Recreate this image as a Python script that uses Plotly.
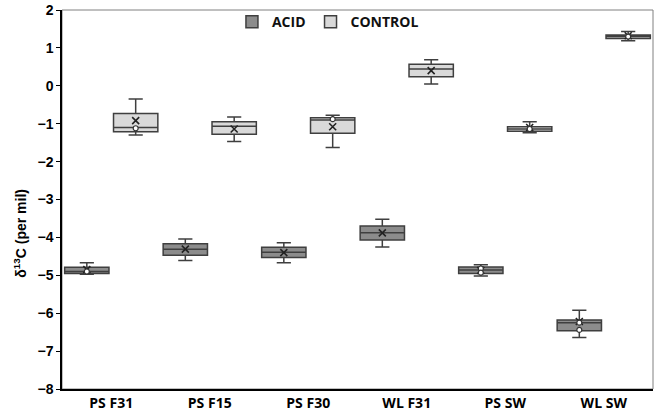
import plotly.graph_objects as go

categories = ["PS F31", "PS F15", "PS F30", "WL F31", "PS SW", "WL SW"]

# ACID series statistics (per mil)
acid_upper = [-4.67, -4.04, -4.14, -3.52, -4.72, -5.92]
acid_q3 = [-4.79, -4.17, -4.26, -3.70, -4.78, -6.18]
acid_median = [-4.90, -4.31, -4.39, -3.88, -4.86, -6.25]
acid_q1 = [-4.95, -4.47, -4.53, -4.07, -4.95, -6.46]
acid_lower = [-4.97, -4.61, -4.67, -4.25, -5.02, -6.64]
acid_mean = [-4.85, -4.31, -4.40, -3.88, -4.87, -6.22]
acid_points_cat = [0, 4, 4, 5, 5]
acid_points_val = [-4.90, -4.82, -4.93, -6.25, -6.44]

# CONTROL series statistics (per mil)
ctrl_upper = [-0.35, -0.82, -0.78, 0.69, -0.95, 1.43]
ctrl_q3 = [-0.73, -0.95, -0.84, 0.57, -1.08, 1.34]
ctrl_median = [-1.10, -1.07, -0.90, 0.44, -1.14, 1.30]
ctrl_q1 = [-1.21, -1.28, -1.25, 0.24, -1.20, 1.25]
ctrl_lower = [-1.30, -1.47, -1.63, 0.05, -1.24, 1.19]
ctrl_mean = [-0.92, -1.14, -1.08, 0.40, -1.10, 1.32]
ctrl_points_cat = [0, 2, 4, 5]
ctrl_points_val = [-1.12, -0.88, -1.14, 1.30]

y_ticks = list(range(-8, 3))

OFF = 0.248
BW = 0.45
acid_x = [i - OFF for i in range(len(categories))]
ctrl_x = [i + OFF for i in range(len(categories))]

line_col = "#3f3f3f"
fig = go.Figure()

fig.add_trace(go.Box(
    name="ACID", x=acid_x, q1=acid_q1, median=acid_median, q3=acid_q3,
    lowerfence=acid_lower, upperfence=acid_upper, width=BW,
    fillcolor="#8c8c8c", line=dict(color=line_col, width=1.5),
    whiskerwidth=0.32, boxpoints=False, hoverinfo="skip"))
fig.add_trace(go.Box(
    name="CONTROL", x=ctrl_x, q1=ctrl_q1, median=ctrl_median, q3=ctrl_q3,
    lowerfence=ctrl_lower, upperfence=ctrl_upper, width=BW,
    fillcolor="#d9d9d9", line=dict(color=line_col, width=1.5),
    whiskerwidth=0.32, boxpoints=False, hoverinfo="skip"))

# mean markers
fig.add_trace(go.Scatter(
    x=acid_x + ctrl_x, y=acid_mean + ctrl_mean, mode="markers",
    marker=dict(symbol="x-thin", size=7, line=dict(color="#222222", width=1.6)),
    showlegend=False, hoverinfo="skip"))
# inner points
fig.add_trace(go.Scatter(
    x=[acid_x[i] for i in acid_points_cat] + [ctrl_x[i] for i in ctrl_points_cat],
    y=acid_points_val + ctrl_points_val, mode="markers",
    marker=dict(symbol="circle", size=5, color="white", line=dict(color="#333333", width=1.2)),
    showlegend=False, hoverinfo="skip"))

fig.update_layout(
    width=654, height=415,
    margin=dict(l=62, r=1, t=10, b=26),
    paper_bgcolor="white", plot_bgcolor="white",
    boxmode="overlay",
    showlegend=True,
    legend=dict(orientation="h", x=0.45, xanchor="center", y=1.01, yanchor="top",
                font=dict(family="Open Sans", size=14, color="#111111", weight="bold"),
                bgcolor="rgba(0,0,0,0)", itemwidth=30, tracegroupgap=0),
    shapes=[dict(type="rect", xref="paper", yref="paper", x0=0, y0=0, x1=1, y1=1,
                 line=dict(color="#808080", width=1), layer="below")],
    annotations=[dict(text="δ<sup>13</sup>C (per mil)", textangle=-90,
                      xref="paper", yref="paper", x=-0.071, y=0.41,
                      xanchor="center", yanchor="middle", showarrow=False,
                      font=dict(family="Liberation Sans", size=14, color="black", weight="bold"))],
)
fig.update_xaxes(
    range=[-0.5, 5.5], tickmode="array", tickvals=list(range(len(categories))),
    ticktext=categories, showgrid=False, zeroline=False,
    showline=True, linecolor="black", linewidth=1.5, ticks="",
    tickfont=dict(family="Open Sans", size=14, color="black", weight="bold"))
fig.update_yaxes(
    range=[-8, 2], tickmode="array", tickvals=y_ticks, showgrid=False, zeroline=False,
    showline=True, linecolor="black", linewidth=1.5, ticks="outside", ticklen=4,
    tickcolor="black", tickwidth=1,
    tickfont=dict(family="Liberation Sans", size=14, color="black", weight="bold"))

fig.write_html("out.html", config={"displayModeBar": False},
               post_script="document.body.style.margin='0';")
